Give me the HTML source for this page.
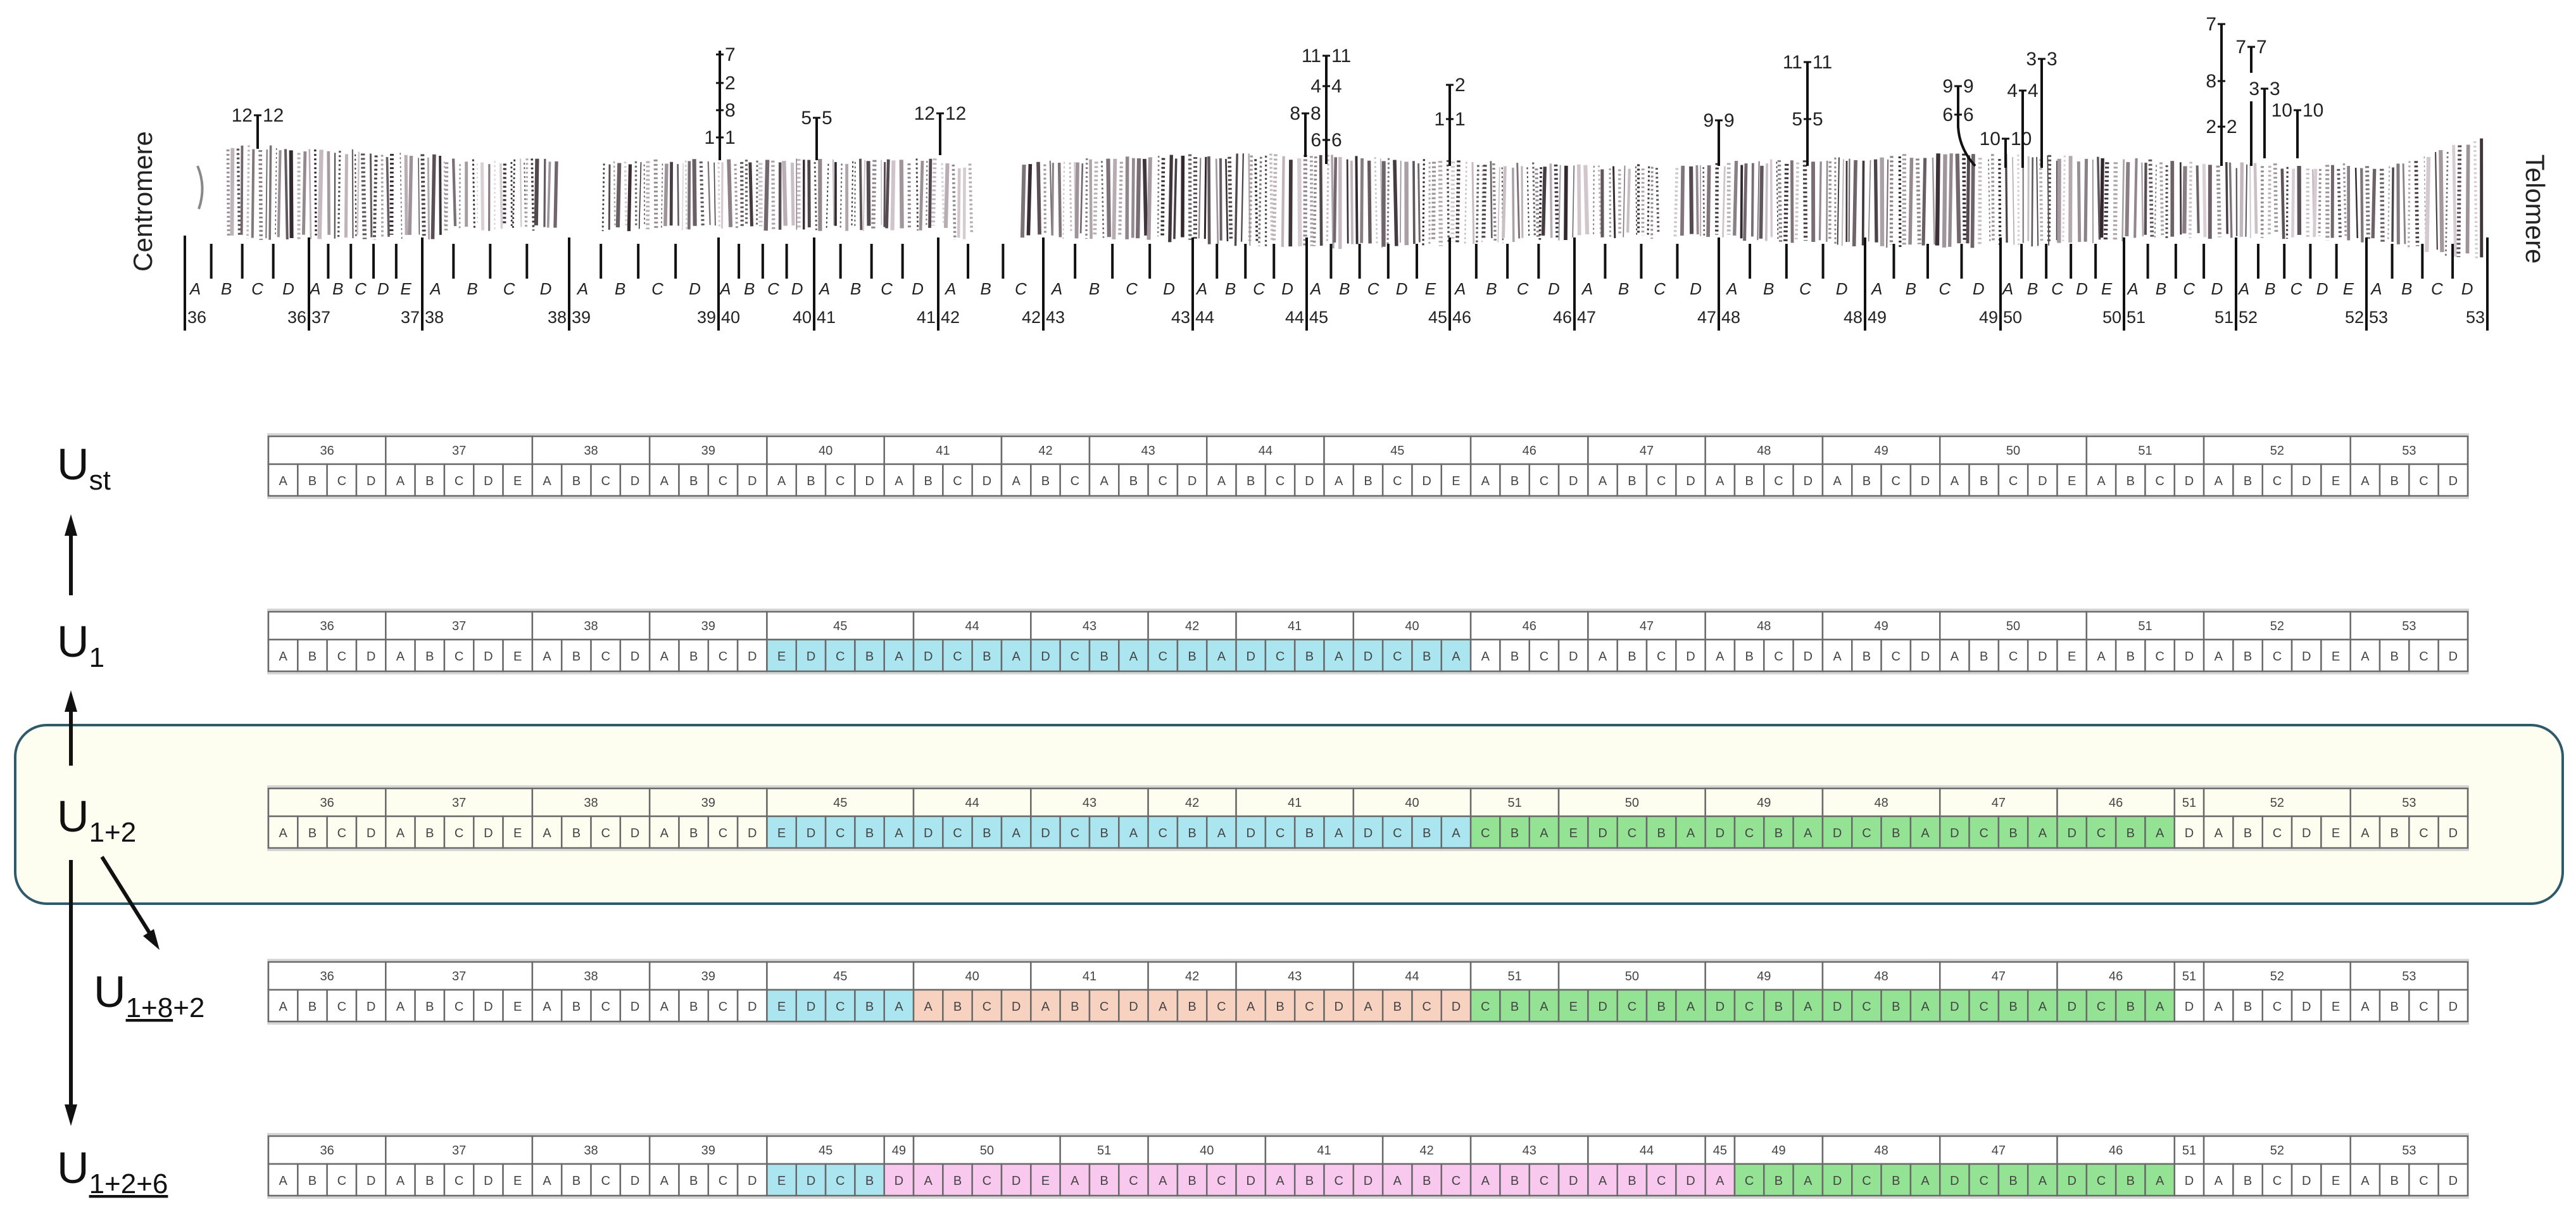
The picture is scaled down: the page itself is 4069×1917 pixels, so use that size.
<!DOCTYPE html>
<html><head><meta charset="utf-8">
<style>
html,body{margin:0;padding:0;background:#fff;}
body{width:4069px;height:1917px;position:relative;overflow:hidden;font-family:"Liberation Sans",sans-serif;}
svg{position:absolute;left:0;top:0;}
</style></head>
<body>
<svg id="s" width="4069" height="1917" viewBox="0 0 4069 1917" xmlns="http://www.w3.org/2000/svg">
<rect x="24" y="1145" width="4024" height="282" rx="50" ry="50" fill="#fefef0" stroke="#2e5a6b" stroke-width="4"/>
<g id="chrom"></g>
<g id="tables"></g>
<g font-family="Liberation Sans, sans-serif" fill="#111">
<text x="90" y="757" font-size="70">U<tspan font-size="44" dy="16">st</tspan></text>
<text x="90" y="1037" font-size="70">U<tspan font-size="44" dy="16">1</tspan></text>
<text x="90" y="1313" font-size="70">U<tspan font-size="44" dy="16">1+2</tspan></text>
<text x="148" y="1590" font-size="70">U<tspan font-size="44" dy="16" text-decoration="underline">1+8</tspan><tspan font-size="44">+2</tspan></text>
<text x="90" y="1868" font-size="70">U<tspan font-size="44" dy="16" text-decoration="underline">1+2+6</tspan></text>
</g>
<g stroke="#111" stroke-width="6" fill="#111">
<line x1="112" y1="940" x2="112" y2="840"/><polygon points="112,812 102,846 122,846" stroke="none"/>
<line x1="112" y1="1209" x2="112" y2="1118"/><polygon points="112,1090 102,1124 122,1124" stroke="none"/>
<line x1="112" y1="1358" x2="112" y2="1745"/><polygon points="112,1778 102,1744 122,1744" stroke="none"/>
<line x1="161" y1="1353" x2="238" y2="1476"/><polygon points="252,1500 226,1478 243,1467" stroke="none"/>
</g>
</svg>
<script>
(function(){
var NS="http://www.w3.org/2000/svg";
function el(p,n,a,t){var e=document.createElementNS(NS,n);for(var k in a)e.setAttribute(k,a[k]);if(t!=null)e.textContent=t;p.appendChild(e);return e;}
var seed=12345;function rnd(){seed=(seed*1103515245+12345)%2147483648;return seed/2147483648;}
var ch=document.getElementById('chrom');
var gaps=[[880,947],[1535,1610],[2618,2640]];
function inGap(x){for(var i=0;i<gaps.length;i++)if(x>gaps[i][0]&&x<gaps[i][1])return true;return false;}
function body(x){var t,b;
 if(x<700){t=226+(x-360)*0.05;b=380;} else if(x<1500){t=250;b=365;} else if(x<3800){t=250+8*Math.sin(x/180);b=385+8*Math.sin(x/150);} else {t=250-(x-3800)*0.3;b=395+(x-3800)*0.15;}
 return [t,b];}
var x=360;
while(x<3925){var w=1.5+rnd()*5;var g=rnd();
 if(!inGap(x)){var tb=body(x);var c=Math.floor(50+rnd()*170);var col='rgb('+c+','+Math.max(0,c-10)+','+Math.max(0,c-5)+')';
  var a={x1:x,y1:tb[0]+rnd()*10,x2:x+(rnd()-0.5)*6,y2:tb[1]-rnd()*10,stroke:col,'stroke-width':w};
  if(g<0.45)a['stroke-dasharray']='3 4';
  el(ch,'line',a);}
 x+=w+1.5+rnd()*6;}
el(ch,'path',{d:'M312,262 Q326,295 314,330',stroke:'#888','stroke-width':4,fill:'none'});
el(ch,'text',{x:0,y:0,'font-size':42,transform:'translate(240,318) rotate(-90)','text-anchor':'middle',fill:'#222'},'Centromere');
el(ch,'text',{x:0,y:0,'font-size':42,transform:'translate(3990,330) rotate(90)','text-anchor':'middle',fill:'#222'},'Telomere');
var B=[292,488,667,899,1135,1286,1482,1648,1884,2064,2290,2487,2715,2946,3160,3355,3532,3738,3929];
var N=[4,5,4,4,4,4,3,4,4,5,4,4,4,4,5,4,5,4];
var L='ABCDE';
for(var i=0;i<B.length;i++){
 el(ch,'line',{x1:B[i],y1:(i==0?372:375),x2:B[i],y2:522,stroke:'#111','stroke-width':4});
 if(i>0)el(ch,'text',{x:B[i]-4,y:510,'font-size':27,'text-anchor':'end',fill:'#222'},String(35+i));
 if(i<B.length-1)el(ch,'text',{x:B[i]+4,y:510,'font-size':27,fill:'#222'},String(36+i));
}
for(var i=0;i<N.length;i++){var x0=B[i],x1=B[i+1],n=N[i],sw=(x1-x0)/n;
 for(var j=0;j<n;j++){var cx=x0+(j+0.5)*sw;
  el(ch,'text',{x:cx-8,y:465,'font-size':26,'font-style':'italic',fill:'#222','text-anchor':'middle'},L[j]);
  var tx=x0+(j+0.85)*sw; if(Math.abs(tx-x1)>12) el(ch,'line',{x1:tx,y1:385,x2:tx,y2:440,stroke:'#111','stroke-width':4});
 }}
function lab(x,y,l,r){if(l)el(ch,'text',{x:x-8,y:y+10,'font-size':30,'text-anchor':'end',fill:'#222'},l);
 if(r)el(ch,'text',{x:x+8,y:y+10,'font-size':30,fill:'#222'},r);
 el(ch,'line',{x1:x-6,y1:y,x2:x+6,y2:y,stroke:'#111','stroke-width':3});}
function vl(x,y1,y2){el(ch,'line',{x1:x,y1:y1,x2:x,y2:y2,stroke:'#111','stroke-width':4});}
vl(407,182,235);lab(407,182,'12','12');
vl(1137,80,253);lab(1137,86,'','7');lab(1137,131,'','2');lab(1137,174,'','8');lab(1137,217,'1','1');
vl(1290,186,253);lab(1290,186,'5','5');
vl(1485,179,245);lab(1485,179,'12','12');
vl(2095,88,259);lab(2095,88,'11','11');lab(2095,136,'4','4');lab(2095,221,'6','6');
vl(2062,179,248);lab(2062,179,'8','8');
vl(2290,134,262);lab(2290,134,'','2');lab(2290,188,'1','1');
vl(2715,190,262);lab(2715,190,'9','9');
vl(2855,98,262);lab(2855,98,'11','11');lab(2855,188,'5','5');
el(ch,'path',{d:'M3093,136 L3093,200 Q3095,235 3120,262',stroke:'#111','stroke-width':4,fill:'none'});lab(3093,136,'9','9');lab(3093,181,'6','6');
vl(3168,219,265);lab(3168,219,'10','10');
vl(3195,143,265);lab(3195,143,'4','4');
vl(3225,93,265);lab(3225,93,'3','3');
vl(3509,38,262);lab(3509,38,'7','');lab(3509,128,'8','');lab(3509,200,'2','2');
vl(3556,74,115);vl(3556,160,262);lab(3556,74,'7','7');
vl(3577,140,250);lab(3577,140,'3','3');
vl(3629,174,250);lab(3629,174,'10','10');

var T=document.getElementById('tables');
var X0=424,X1=3898,W=(X1-X0)/75;
var col={w:'#ffffff',b:'#abe5f0',g:'#94e394',s:'#f8d2c0',p:'#f8c8ee'};
function seg(n,letters,c){return {n:n,l:letters,c:c};}
var base=[seg('36','ABCD','w'),seg('37','ABCDE','w'),seg('38','ABCD','w'),seg('39','ABCD','w')];
var tail=[seg('46','ABCD','w'),seg('47','ABCD','w'),seg('48','ABCD','w'),seg('49','ABCD','w'),seg('50','ABCDE','w'),seg('51','ABCD','w'),seg('52','ABCDE','w'),seg('53','ABCD','w')];
var blue=[seg('45','EDCBA','b'),seg('44','DCBA','b'),seg('43','DCBA','b'),seg('42','CBA','b'),seg('41','DCBA','b'),seg('40','DCBA','b')];
var green=[seg('51','CBA','g'),seg('50','EDCBA','g'),seg('49','DCBA','g'),seg('48','DCBA','g'),seg('47','DCBA','g'),seg('46','DCBA','g')];
var end=[seg('51','D','w'),seg('52','ABCDE','w'),seg('53','ABCD','w')];
var rows=[
 {y:689,s:base.concat([seg('40','ABCD','w'),seg('41','ABCD','w'),seg('42','ABC','w'),seg('43','ABCD','w'),seg('44','ABCD','w'),seg('45','ABCDE','w')],tail)},
 {y:966,s:base.concat(blue,tail)},
 {y:1245,s:base.concat(blue,green,end)},
 {y:1519,s:base.concat([seg('45','EDCBA','b'),seg('40','ABCD','s'),seg('41','ABCD','s'),seg('42','ABC','s'),seg('43','ABCD','s'),seg('44','ABCD','s')],green,end)},
 {y:1794,s:base.concat([seg('45','EDCB','b'),seg('49','D','p'),seg('50','ABCDE','p'),seg('51','ABC','p'),seg('40','ABCD','p'),seg('41','ABCD','p'),seg('42','ABC','p'),seg('43','ABCD','p'),seg('44','ABCD','p'),seg('45','A','p'),seg('49','CBA','g'),seg('48','DCBA','g'),seg('47','DCBA','g'),seg('46','DCBA','g')],end)}
];
rows.forEach(function(r,ri){
 var y=r.y,hh=44,lh=50;var bg=ri==2?'#fefef0':'#fff';
 el(T,'rect',{x:X0-2,y:y-5,width:X1-X0+4,height:hh+lh+10,fill:'#d6d6d6'});
 var i=0;
 r.s.forEach(function(sg){var n=sg.l.length;var sx=X0+i*W;
  el(T,'rect',{x:sx,y:y,width:n*W,height:hh,fill:bg,stroke:'#6a6a6a','stroke-width':2.5});
  el(T,'text',{x:sx+n*W/2,y:y+29,'font-size':20,'text-anchor':'middle',fill:'#444'},sg.n);
  for(var j=0;j<n;j++){var cx=X0+(i+j)*W;
   el(T,'rect',{x:cx,y:y+hh,width:W,height:lh,fill:sg.c=='w'?bg:col[sg.c],stroke:'#6a6a6a','stroke-width':2.5});
   el(T,'text',{x:cx+W/2,y:y+hh+33,'font-size':20,'text-anchor':'middle',fill:'#444'},sg.l[j]);}
  i+=n;});
});
})();
</script>
</body></html>
